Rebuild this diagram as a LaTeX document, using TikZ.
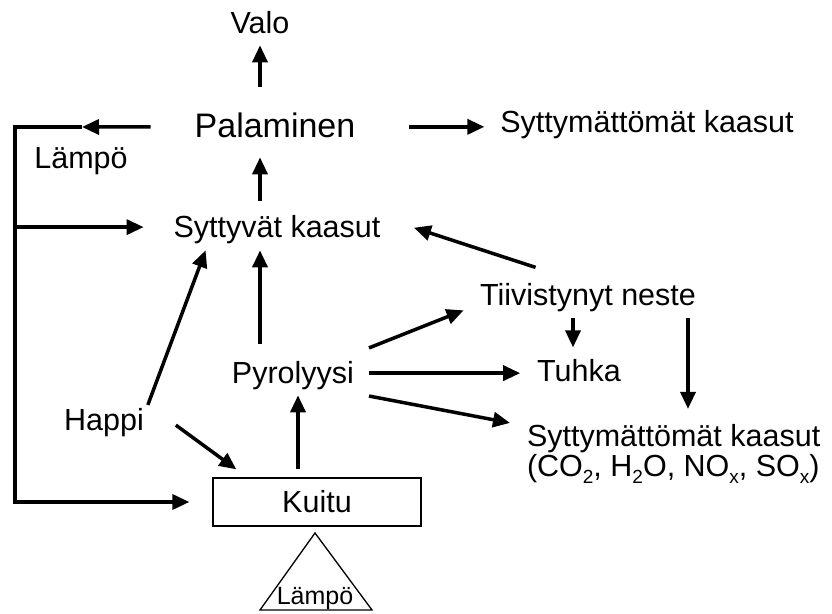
\documentclass[tikz,border=0pt]{standalone}
\usepackage{fontspec}
\setmainfont{Liberation Sans}
\usetikzlibrary{arrows.meta,calc}
\newcommand{\mysub}[1]{\raisebox{-7pt}{\fontsize{19}{20}\selectfont #1}}
\begin{document}
\begin{tikzpicture}[x=1pt,y=-1pt,
  lbl/.style={inner sep=0pt, outer sep=0pt, anchor=base, font=\fontsize{30.5}{34}\selectfont},
  arr/.style={line width=3.5pt, -{Triangle[length=17pt,width=15pt]}},
  ln/.style={line width=3.5pt},
  thinline/.style={line width=1.3pt}]
\useasboundingbox (0,0) rectangle (832,613);

% nodes
\node[lbl] (valo) at (260,33) {Valo};
\node[lbl, font=\fontsize{34}{38}\selectfont] (pal) at (275,137) {Palaminen};
\node[lbl] (sytTop) at (647,132) {Syttymättömät kaasut};
\node[lbl] (lampo) at (81,168) {Lämpö};
\node[lbl] (sytt) at (277,237) {Syttyvät kaasut};
\node[lbl] (tiiv) at (588,305) {Tiivistynyt neste};
\node[lbl] (pyr) at (293,383) {Pyrolyysi};
\node[lbl] (tuhka) at (579,381) {Tuhka};
\node[lbl] (happi) at (104,430) {Happi};
\node[lbl, anchor=base west] (sytB) at (527,446) {Syttymättömät kaasut};
\node[lbl, anchor=base west] (co2) at (527,476) {(CO\mysub{2}, H\mysub{2}O, NO\mysub{x}, SO\mysub{x})};
\node[draw, thinline, minimum width=208pt, minimum height=48pt, inner sep=0pt,
      font=\fontsize{30.5}{34}\selectfont] (kuitu) at (317,502) {Kuitu};
\node[lbl, font=\fontsize{25}{28}\selectfont] (lampo2) at (315,604) {Lämpö};

% triangle under Kuitu
\draw[thinline, line join=miter] ($(lampo2.base)+(-55,6)$) -- ($(lampo2.base)+(0,-71)$)
   -- ($(lampo2.base)+(57,6)$) -- cycle;

% vertical chain
\draw[arr, shorten <=25pt, shorten >=12pt] (valo.south |- pal.north) -- (valo.south);
\draw[arr, shorten <=13.5pt, shorten >=20pt] (sytt.north -| valo.south) -- (pal.south -| valo.south);
\draw[arr, shorten <=16.5pt, shorten >=7pt] (pyr.north -| valo.south) -- (sytt.south -| valo.south);
\draw[arr, shorten <=8pt, shorten >=6pt] ($(pyr.south |- kuitu.north)+(5,0)$) -- ($(pyr.south)+(5,0)$);

% feedback loop (heat)
\coordinate (fbT) at (15,127);
\coordinate (fbB) at (15,502);
\coordinate (lt) at (82,127);
\draw[arr] ($(pal.west)+(-44,2)$) -- (lt);
\draw[arr, line join=miter, shorten >=23pt] (lt) -- (fbT) -- (fbB) -- (kuitu.west);
\draw[arr, shorten >=30pt] ($(fbT |- sytt.west)+(0,-2)$) -- ($(sytt.west)+(0,-2)$);

% Palaminen -> incombustible gases
\draw[arr] ($(pal.east)+(54,2)$) -- ($(sytTop.west |- pal.east)+(-16,2)$);

% Happi
\draw[arr] ($(happi.north east)+(4,-3)$) -- ($(sytt.south west)+(32,7)$);
\draw[arr] ($(happi.east)+(32,3)$) -- ($(kuitu.north west)+(24,-8)$);

% Pyrolyysi outputs
\draw[arr] ($(pyr.north east)+(15,-13)$) -- ($(tiiv.south west)+(-16.5,-1)$);
\draw[arr] ($(pyr.east)+(15,-2)$) -- ($(tuhka.west |- pyr.east)+(-17,-2)$);
\draw[arr] ($(pyr.south east)+(15,6.7)$) -- ($(sytB.north west)+(-17,-1)$);

% Tiivistynyt neste
\draw[arr] ($(tiiv.north west)+(55.5,-15.5)$) -- ($(sytt.east)+(33.5,-1.4)$);
\draw[arr] ($(tiiv.south -| tuhka.north)+(-6,7)$) -- ($(tuhka.north)+(-6,-11.5)$);
\draw[arr] ($(tiiv.south)+(100,7)$) -- ($(tiiv.south |- sytB.north)+(100,-15)$);
\end{tikzpicture}
\end{document}
